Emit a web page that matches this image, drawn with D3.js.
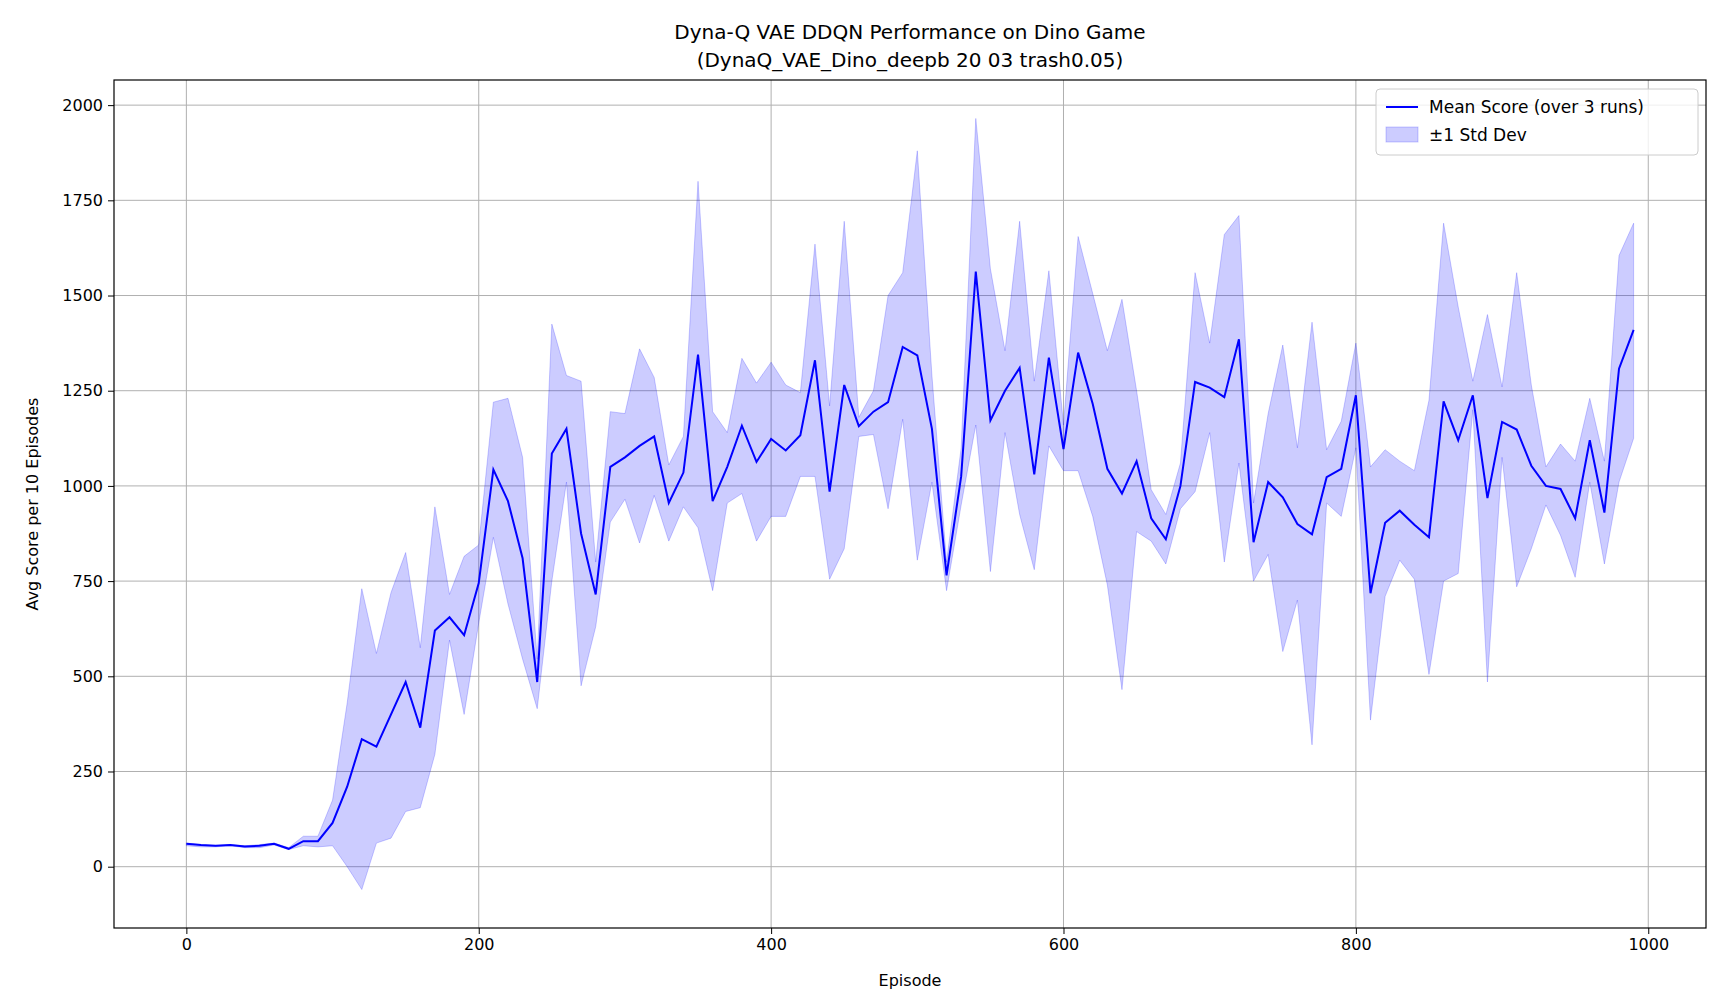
<!DOCTYPE html><html><head><meta charset="utf-8">
<script src="https://cdn.jsdelivr.net/npm/d3@7"></script>
<style>body{margin:0;background:#fff}text{font-family:"DejaVu Sans",sans-serif}</style></head><body>
<svg id="c" width="1728" height="1008"></svg>
<script>
const episodes = d3.range(0, 1000, 10);
const meanScore = [60,57,55,57,53,55,60,47,67,67,115,210,335,315,400,485,365,620,655,608,745,1043,960,810,485,1085,1150,875,715,1050,1075,1105,1130,955,1035,1345,960,1050,1158,1063,1123,1093,1133,1330,985,1265,1157,1195,1220,1365,1343,1150,765,1025,1563,1172,1250,1310,1030,1337,1097,1350,1215,1045,980,1065,915,860,1000,1273,1258,1233,1385,852,1010,970,900,873,1023,1045,1238,718,903,935,898,865,1222,1120,1238,968,1168,1148,1053,1000,992,915,1120,930,1308,1410];
const upperBand = [62,58,55,58,55,58,62,50,80,80,175,430,730,560,720,825,575,945,715,815,845,1220,1230,1075,545,1425,1290,1275,800,1195,1190,1360,1285,1055,1130,1800,1195,1140,1335,1270,1325,1265,1245,1635,1210,1695,1180,1250,1500,1560,1880,1290,800,1100,1965,1570,1355,1695,1275,1565,1160,1655,1505,1355,1490,1250,990,925,1060,1560,1375,1660,1710,955,1190,1370,1100,1430,1095,1170,1375,1050,1095,1065,1040,1225,1690,1470,1275,1450,1260,1560,1265,1050,1110,1065,1230,1065,1605,1690];
const lowerBand = [55,52,52,55,50,50,57,45,55,52,55,0,-60,62,75,145,155,295,595,400,640,865,690,545,415,750,1010,475,630,905,965,850,975,855,945,890,725,955,980,855,920,920,1025,1025,755,835,1130,1135,940,1175,805,1010,725,950,1160,775,1140,925,780,1105,1040,1040,920,740,465,880,855,795,940,985,1140,800,1060,750,820,565,700,320,955,920,1100,385,710,805,755,505,750,770,1200,485,1075,735,835,950,870,760,1010,795,1010,1125];
const xTicks = [0,200,400,600,800,1000];
const yTicks = [0,250,500,750,1000,1250,1500,1750,2000];

const L=114,R=1706,T=80,B=928;
const svg=d3.select("#c");
const x=d3.scaleLinear().domain([-49.5,1039.5]).range([L,R]);
const y=d3.scaleLinear().domain([-161,2066]).range([B,T]);
const g=svg.append("g");
g.selectAll(".gx").data(xTicks).join("line").attr("x1",d=>x(d)).attr("x2",d=>x(d)).attr("y1",T).attr("y2",B).attr("stroke","#b0b0b0").attr("stroke-width",1);
g.selectAll(".gy").data(yTicks).join("line").attr("x1",L).attr("x2",R).attr("y1",d=>y(d)).attr("y2",d=>y(d)).attr("stroke","#b0b0b0").attr("stroke-width",1);
const data=episodes.map((e,i)=>({e,m:meanScore[i],u:upperBand[i],l:lowerBand[i]}));
g.append("path").datum(data).attr("d",d3.area().x(d=>x(d.e)).y0(d=>y(d.l)).y1(d=>y(d.u))).attr("fill","rgba(0,0,255,0.2)").attr("stroke","rgba(0,0,255,0.2)");
g.append("path").datum(data).attr("d",d3.line().x(d=>x(d.e)).y(d=>y(d.m))).attr("fill","none").attr("stroke","#0000ff").attr("stroke-width",2);
svg.append("g").attr("transform",`translate(0,${B})`).call(d3.axisBottom(x).tickValues(xTicks).tickFormat(d3.format("d")).tickSize(6).tickPadding(5)).call(a=>a.selectAll("text").attr("font-size",16).attr("fill","#000"));
svg.append("g").attr("transform",`translate(${L},0)`).call(d3.axisLeft(y).tickValues(yTicks).tickFormat(d3.format("d")).tickSize(6).tickPadding(5)).call(a=>a.selectAll("text").attr("font-size",16).attr("fill","#000"));
svg.selectAll(".domain").remove();
svg.append("rect").attr("x",L).attr("y",T).attr("width",R-L).attr("height",B-T).attr("fill","none").attr("stroke","#000").attr("stroke-width",1.2);
svg.append("text").attr("x",(L+R)/2).attr("y",39).attr("text-anchor","middle").attr("font-size",20).text("Dyna-Q VAE DDQN Performance on Dino Game");
svg.append("text").attr("x",(L+R)/2).attr("y",67).attr("text-anchor","middle").attr("font-size",20).text("(DynaQ_VAE_Dino_deepb 20 03 trash0.05)");
svg.append("text").attr("x",(L+R)/2).attr("y",986).attr("text-anchor","middle").attr("font-size",16).text("Episode");
svg.append("text").attr("transform",`translate(38,${(T+B)/2}) rotate(-90)`).attr("text-anchor","middle").attr("font-size",16).text("Avg Score per 10 Episodes");
const lg=svg.append("g").attr("transform",`translate(${R-330},${T+9})`);
lg.append("rect").attr("width",322).attr("height",66).attr("rx",4).attr("fill","#fff").attr("fill-opacity",0.8).attr("stroke","#ccc");
lg.append("line").attr("x1",10).attr("x2",42).attr("y1",18).attr("y2",18).attr("stroke","#0000ff").attr("stroke-width",2);
lg.append("text").attr("x",53).attr("y",24).attr("font-size",17).text("Mean Score (over 3 runs)");
lg.append("rect").attr("x",10).attr("y",38).attr("width",32).attr("height",15).attr("fill","rgba(0,0,255,0.2)").attr("stroke","rgba(0,0,255,0.2)");
lg.append("text").attr("x",53).attr("y",52).attr("font-size",17).text("±1 Std Dev");
</script></body></html>
